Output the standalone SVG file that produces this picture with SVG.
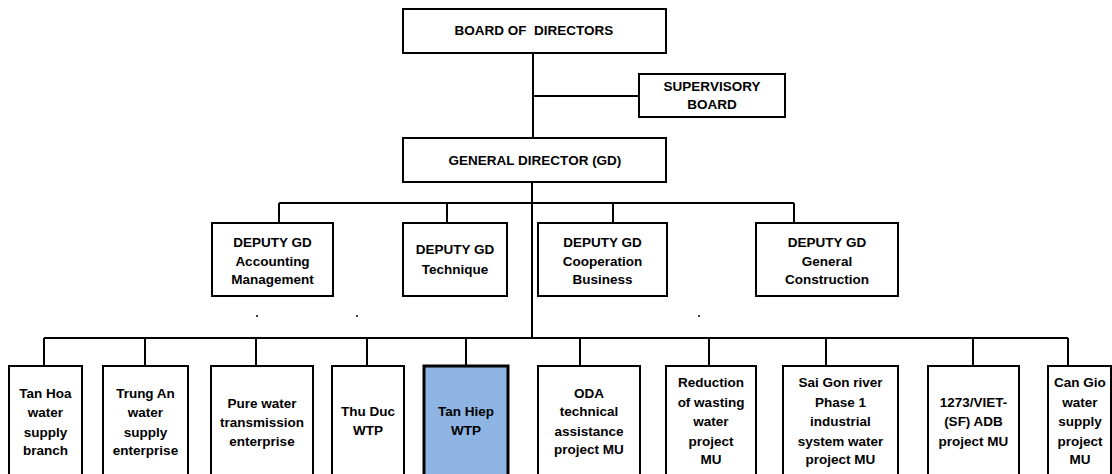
<svg xmlns="http://www.w3.org/2000/svg" width="1112" height="474" viewBox="0 0 1112 474">
  <style>
    .box { fill: #ffffff; stroke: #000000; stroke-width: 2; }
    .hl { fill: #8DB4E2; stroke: #000000; stroke-width: 3; }
    .wire { fill: none; stroke: #000000; stroke-width: 2; }
    text { font-family: "Liberation Sans", Arial, sans-serif; font-weight: bold; font-size: 13.5px; fill: #000000; text-anchor: middle; }
    .dot { fill: #000000; }
  </style>
  <rect width="1112" height="474" fill="#ffffff"/>

  <!-- connectors -->
  <g id="connectors" class="wire">
    <path d="M533 53 V138"/>
    <path d="M533 96 H639"/>
    <path d="M532 182 V338"/>
    <path d="M279 203 H794"/>
    <path d="M279 203 V223 M447 203 V223 M613 203 V223 M794 203 V223"/>
    <path d="M44 338 H1068"/>
    <path d="M44 338 V366 M145 338 V366 M256 338 V366 M367 338 V366 M466 338 V366 M580 338 V366 M709 338 V366 M826 338 V366 M973 338 V366 M1068 338 V366"/>
  </g>

  <!-- top level -->
  <g id="board">
    <rect class="box" x="403" y="9" width="263" height="44"/>
    <text x="534" y="35">BOARD OF&#160; DIRECTORS</text>
  </g>
  <g id="supervisory">
    <rect class="box" x="639" y="74" width="146" height="43"/>
    <text x="712" y="91">SUPERVISORY</text>
    <text x="712" y="109">BOARD</text>
  </g>
  <g id="general-director">
    <rect class="box" x="403" y="138" width="263" height="44"/>
    <text x="535" y="165">GENERAL DIRECTOR (GD)</text>
  </g>

  <!-- deputies -->
  <g id="deputy-accounting">
    <rect class="box" x="212" y="223" width="121" height="73"/>
    <text x="272.5" y="247">DEPUTY GD</text>
    <text x="272.5" y="266">Accounting</text>
    <text x="272.5" y="284">Management</text>
  </g>
  <g id="deputy-technique">
    <rect class="box" x="403" y="223" width="104" height="73"/>
    <text x="455" y="254">DEPUTY GD</text>
    <text x="455" y="274">Technique</text>
  </g>
  <g id="deputy-cooperation">
    <rect class="box" x="538" y="223" width="129" height="73"/>
    <text x="602.5" y="247">DEPUTY GD</text>
    <text x="602.5" y="266">Cooperation</text>
    <text x="602.5" y="284">Business</text>
  </g>
  <g id="deputy-construction">
    <rect class="box" x="756" y="223" width="142" height="73"/>
    <text x="827" y="247">DEPUTY GD</text>
    <text x="827" y="266">General</text>
    <text x="827" y="284">Construction</text>
  </g>

  <g id="dots">
    <circle class="dot" cx="257" cy="316" r="1"/>
    <circle class="dot" cx="357" cy="316" r="1"/>
    <circle class="dot" cx="699" cy="316" r="1"/>
  </g>

  <!-- units -->
  <g id="tan-hoa">
    <rect class="box" x="9" y="366" width="73" height="120"/>
    <text x="45.5" y="398">Tan Hoa</text>
    <text x="45.5" y="417">water</text>
    <text x="45.5" y="437">supply</text>
    <text x="45.5" y="455">branch</text>
  </g>
  <g id="trung-an">
    <rect class="box" x="103" y="366" width="85" height="120"/>
    <text x="145.5" y="398">Trung An</text>
    <text x="145.5" y="417">water</text>
    <text x="145.5" y="437">supply</text>
    <text x="145.5" y="455">enterprise</text>
  </g>
  <g id="pure-water">
    <rect class="box" x="211" y="366" width="102" height="120"/>
    <text x="262" y="408">Pure water</text>
    <text x="262" y="427">transmission</text>
    <text x="262" y="446">enterprise</text>
  </g>
  <g id="thu-duc">
    <rect class="box" x="332" y="366" width="72" height="120"/>
    <text x="368" y="416">Thu Duc</text>
    <text x="368" y="435">WTP</text>
  </g>
  <g id="tan-hiep">
    <rect class="hl" x="424" y="366" width="84" height="120"/>
    <text x="466" y="416">Tan Hiep</text>
    <text x="466" y="435">WTP</text>
  </g>
  <g id="oda">
    <rect class="box" x="538" y="366" width="102" height="120"/>
    <text x="589" y="398">ODA</text>
    <text x="589" y="416">technical</text>
    <text x="589" y="436">assistance</text>
    <text x="589" y="454">project MU</text>
  </g>
  <g id="reduction">
    <rect class="box" x="666" y="366" width="90" height="120"/>
    <text x="711" y="387">Reduction</text>
    <text x="711" y="407">of wasting</text>
    <text x="711" y="426">water</text>
    <text x="711" y="446">project</text>
    <text x="711" y="464">MU</text>
  </g>
  <g id="sai-gon">
    <rect class="box" x="783" y="366" width="115" height="120"/>
    <text x="840.5" y="387">Sai Gon river</text>
    <text x="840.5" y="407">Phase 1</text>
    <text x="840.5" y="426">industrial</text>
    <text x="840.5" y="446">system water</text>
    <text x="840.5" y="464">project MU</text>
  </g>
  <g id="adb-1273">
    <rect class="box" x="928" y="366" width="91" height="120"/>
    <text x="973.5" y="407">1273/VIET-</text>
    <text x="973.5" y="426">(SF) ADB</text>
    <text x="973.5" y="446">project MU</text>
  </g>
  <g id="can-gio">
    <rect class="box" x="1048" y="366" width="63" height="120"/>
    <text x="1080" y="387">Can Gio</text>
    <text x="1080" y="407">water</text>
    <text x="1080" y="426">supply</text>
    <text x="1080" y="446">project</text>
    <text x="1080" y="464">MU</text>
  </g>
</svg>
